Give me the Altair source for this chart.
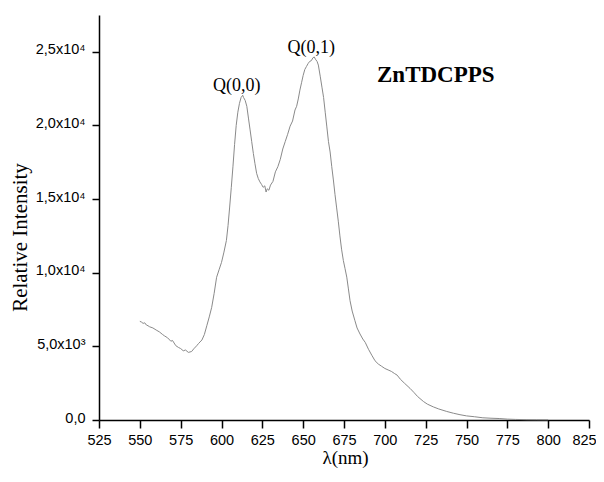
import altair as alt
import pandas as pd

wavelength = [550, 551, 552, 553, 554, 555, 556, 558, 560, 562, 564, 565, 567, 569, 570, 572,
              573.6, 575, 576.6, 578, 579.7, 581.7, 583, 584.8, 586, 588, 589.5, 591, 592.5, 594,
              595.5, 597, 598.5, 600, 601.5, 603, 604, 605, 606, 607, 608, 609, 610, 611, 612,
              613, 613.5, 614.5, 615.5, 616.5, 617.5, 618.5, 619.5, 620.5, 621.5, 622.5, 623.5,
              624.5, 625.5, 626.5, 627.3, 628, 629, 630, 631.5, 633, 634.5, 636, 637.5, 639,
              640.5, 642, 643.5, 645, 646, 647, 648, 649, 650, 651, 652, 653, 654, 655, 656,
              656.8, 657.5, 658.5, 659.3, 660.5, 661.5, 662.5, 663.5, 664.5, 665.5, 666.5, 667.5,
              668.5, 669.5, 670.5, 671.5, 672.5, 673.5, 674.6, 675.6, 676.7, 677.7, 678.7, 680,
              681.7, 683, 684.8, 686.5, 688, 690, 692, 694, 696, 698, 700, 702, 704, 706, 707.5,
              709.5, 712, 715.4, 718, 720, 723.6, 726, 729.7, 733, 737.9, 742, 746, 750, 755,
              760, 765, 770, 775, 780, 787, 793, 800]
intensity = [6700, 6650, 6560, 6600, 6450, 6400, 6330, 6250, 6110, 5980, 5800, 5720, 5580, 5350,
             5400, 5050, 4930, 4850, 4700, 4750, 4590, 4650, 4830, 5040, 5200, 5430, 5800, 6400,
             7000, 7650, 8600, 9690, 10200, 10700, 11400, 12190, 13200, 14460, 15800, 17190,
             18700, 20000, 20900, 21500, 21900, 22050, 21900, 21700, 21300, 20500, 19700, 18900,
             18100, 17400, 16750, 16400, 16170, 16000, 15800, 15900, 15480, 15700, 15600, 15950,
             16200, 16850, 17200, 17700, 18400, 18900, 19400, 19950, 20300, 21050, 21300, 21800,
             22400, 22900, 23400, 23800, 24000, 24200, 24350, 24400, 24600, 24650, 24500, 24350,
             24100, 23300, 22600, 21900, 20900, 19900, 18900, 18200, 17200, 16300, 15300, 14400,
             13500, 12500, 11600, 10830, 10300, 9700, 8900, 8100, 7400, 6740, 6250, 5840, 5500,
             5270, 4800, 4400, 4020, 3800, 3650, 3500, 3400, 3300, 3150, 3050, 2770, 2500, 2150,
             1850, 1600, 1260, 1080, 890, 750, 580, 460, 360, 280, 220, 150, 120, 100, 60, 40,
             20, 15, 10]

x_ticks = [525, 537.5, 550, 562.5, 575, 587.5, 600, 612.5, 625, 637.5, 650, 662.5, 675, 687.5,
           700, 712.5, 725, 737.5, 750, 762.5, 775, 787.5, 800, 812.5, 825]
y_ticks = [0, 2500, 5000, 7500, 10000, 12500, 15000, 17500, 20000, 22500, 25000, 27500]
y_major = [0, 5000, 10000, 15000, 20000, 25000]
y_labels = ["0,0", "5,0x10³", "1,0x10⁴", "1,5x10⁴", "2,0x10⁴", "2,5x10⁴"]

peak_text = ["Q(0,0)", "Q(0,1)"]
peak_x = [609.3, 655.0]
peak_y = [22680, 25270]
name_text = ["ZnTDCPPS"]
name_x = [731.2]
name_y = [23410]

df = pd.DataFrame({"wl": wavelength, "val": intensity})
peaks = pd.DataFrame({"t": peak_text, "x": peak_x, "y": peak_y})
names = pd.DataFrame({"t": name_text, "x": name_x, "y": name_y})

y_label_expr = ""
for v, l in zip(y_major, y_labels):
    y_label_expr += f"datum.value == {v} ? '{l}' : "
y_label_expr += "''"
x_label_expr = "datum.value % 25 == 0 ? format(datum.value, 'd') : ''"

xscale = alt.Scale(domain=[525, 825], nice=False, zero=False)
yscale = alt.Scale(domain=[0, 27500], nice=False)

x_tick_size = {"condition": {"test": "datum.value % 25 == 0", "value": 8}, "value": 5}
y_tick_size = {"condition": {"test": "datum.value % 5000 == 0", "value": 7}, "value": 4}
x_label_offset = {"condition": {"test": "datum.value == 825", "value": -5}, "value": 0}

W, H = 490, 405

line = alt.Chart(df).mark_line(color="#8a8a8a", strokeWidth=1).encode(
    x=alt.X("wl:Q", scale=xscale, axis=alt.Axis(
        values=x_ticks, labelExpr=x_label_expr, labelOverlap=False,
        labelOffset=x_label_offset,
        title="λ(nm)", grid=False, tickSize=x_tick_size, tickWidth=1.5,
        domainWidth=1.5, domainColor="black", tickColor="black",
        labelFont="Liberation Sans", labelFontSize=14.5, labelColor="black", labelPadding=5,
        titleFont="Liberation Serif", titleFontSize=19, titleFontWeight="normal",
        titleColor="black", titleX=246, titleY=37, titleBaseline="middle",
        titleAnchor="middle", labelFlush=False)),
    y=alt.Y("val:Q", scale=yscale, axis=alt.Axis(
        values=y_ticks, labelExpr=y_label_expr, labelOverlap=False,
        title="Relative Intensity", grid=False,
        tickSize=y_tick_size, tickWidth=1.5, domainWidth=1.5, domainColor="black",
        tickColor="black", labelOffset=-2,
        labelFont="Liberation Sans", labelFontSize=14.5, labelColor="black", labelPadding=7,
        titleFont="Liberation Serif", titleFontSize=21, titleFontWeight="normal",
        titleColor="black", titleX=-79, titleY=222, titleBaseline="middle",
        titleAnchor="middle", titleAngle=270, labelFlush=False)),
)

peak_layer = alt.Chart(peaks).mark_text(font="Liberation Serif", fontSize=18, baseline="middle",
                                        align="center", color="black").encode(
    x=alt.X("x:Q", scale=xscale),
    y=alt.Y("y:Q", scale=yscale),
    text="t:N",
)

name_layer = alt.Chart(names).mark_text(font="Liberation Serif", fontSize=23, fontWeight="bold",
                                        baseline="middle", align="center", color="black").encode(
    x=alt.X("x:Q", scale=xscale),
    y=alt.Y("y:Q", scale=yscale),
    text="t:N",
)

chart = alt.layer(line, peak_layer, name_layer).properties(
    width=W, height=H,
    background="white",
    autosize=alt.AutoSizeParams(type="none"),
    padding={"left": 91, "top": 7, "right": 7, "bottom": 48},
).configure_view(stroke=None)

chart.save("out.html", embed_options={"renderer": "svg", "actions": False})
